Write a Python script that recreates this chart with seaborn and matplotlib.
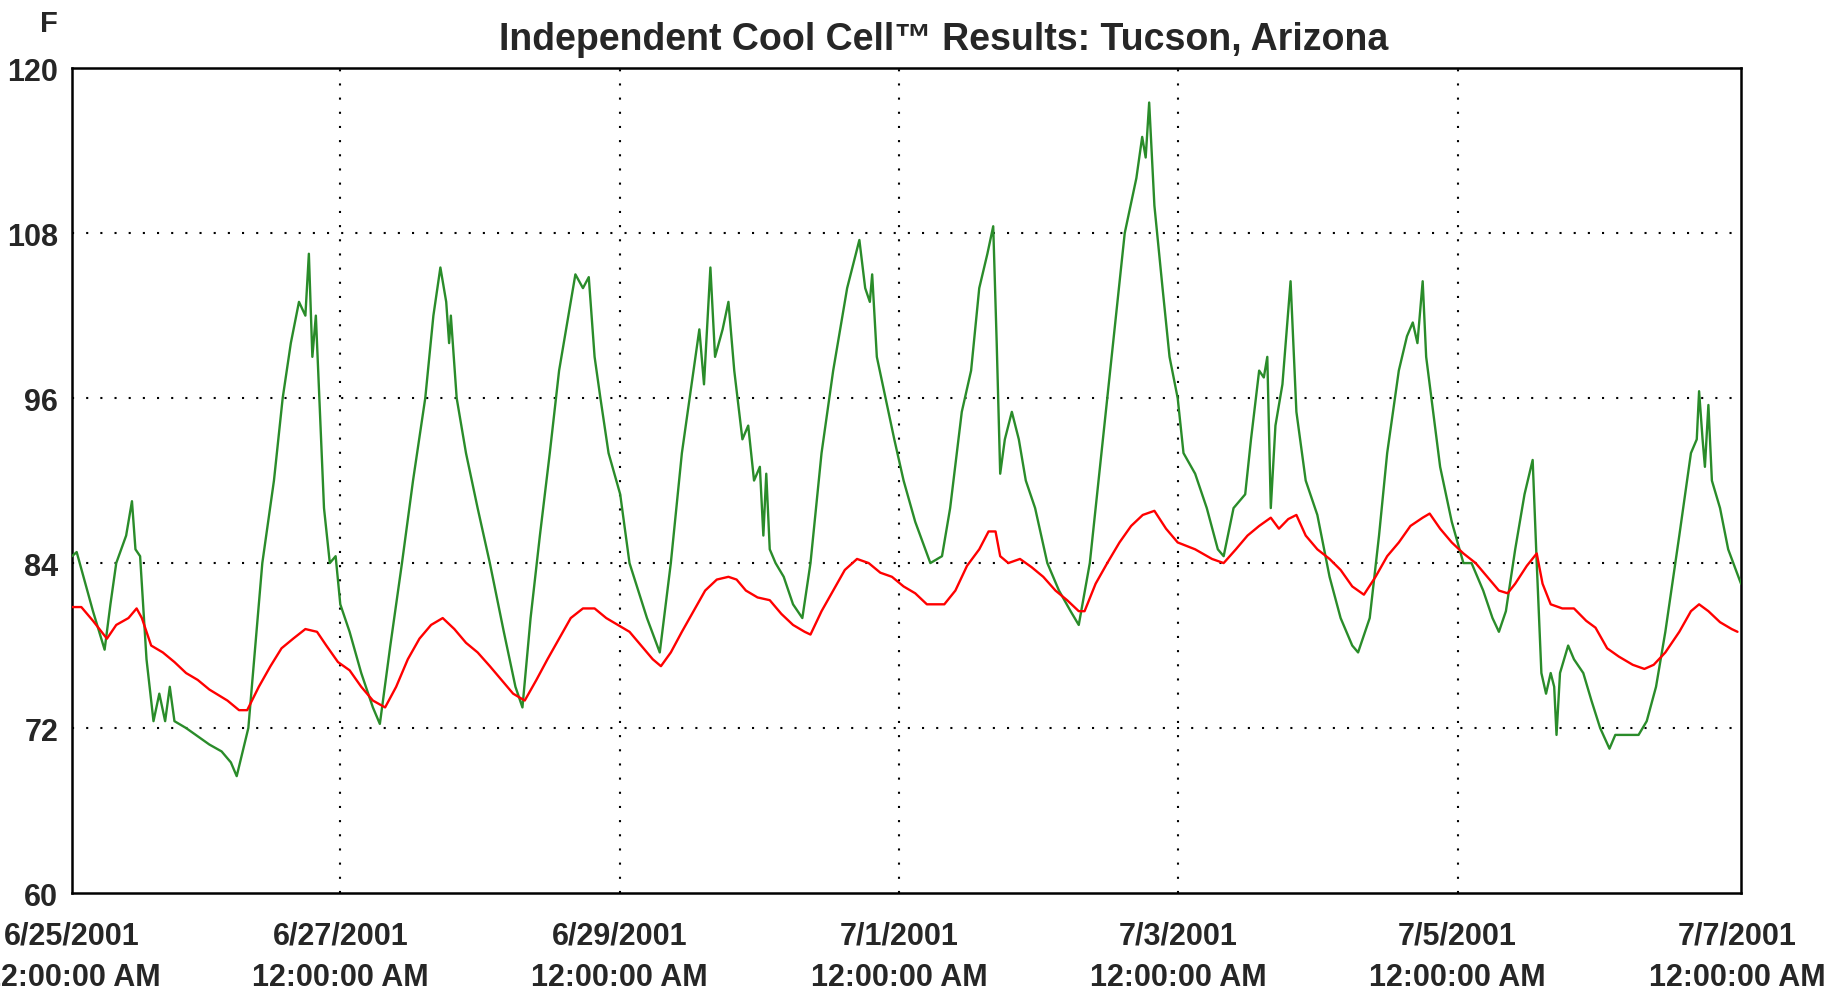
import numpy as np
import pandas as pd
import matplotlib
matplotlib.use("Agg")
import matplotlib.pyplot as plt
import seaborn as sns

# hours since 6/25/2001 12:00 AM, temperature in F
OUTSIDE_HOURS = [
    1.9, 2.7, 5.5, 7.5, 8.5, 9.5, 11.2, 12.2, 12.8, 13.6, 14.7, 15.9, 16.9, 17.9, 18.7, 19.5,
    21.5, 25.5, 27.6, 29.2, 30.2, 32.2, 34.6, 36.6, 38.1, 39.5, 40.9, 42.0, 42.6, 43.2, 43.8,
    44.4, 45.2, 46.2, 47.2, 48.0, 49.6, 51.6, 53.6, 54.8, 56.6, 58.6, 60.5, 62.6, 64.0, 65.2,
    66.2, 66.7, 67.0, 68.0, 69.6, 71.6, 73.7, 76.1, 78.1, 79.3, 80.7, 82.3, 84.0, 85.6, 87.2,
    88.4, 89.7, 90.7, 91.7, 92.7, 94.1, 96.1, 97.7, 100.7, 102.9, 104.8, 106.7, 108.7, 109.7,
    110.5, 111.6, 112.4, 113.7, 114.7, 115.7, 117.1, 118.1, 119.1, 120.1, 120.7, 121.2, 121.8,
    122.8, 124.2, 125.8, 127.4, 128.8, 130.7, 132.7, 135.1, 137.2, 138.2, 139.0, 139.4, 140.2,
    141.2, 143.2, 144.8, 146.8, 149.4, 151.4, 152.8, 154.8, 156.4, 157.8, 159.2, 160.2, 160.8,
    161.4, 162.2, 163.4, 164.6, 165.8, 167.4, 169.5, 171.5, 173.5, 174.9, 176.8, 178.8, 180.8,
    182.8, 184.8, 185.8, 186.4, 187.0, 187.9, 189.3, 190.5, 191.9, 192.9, 194.9, 196.9, 198.8,
    199.8, 201.5, 203.5, 204.5, 205.9, 206.7, 207.3, 207.9, 208.7, 209.9, 211.3, 212.3, 213.9,
    215.9, 218.0, 219.9, 221.9, 222.9, 224.9, 226.5, 227.9, 229.9, 231.3, 232.3, 233.1, 234.0,
    234.6, 235.2, 237.0, 239.0, 240.0, 241.0, 242.4, 244.4, 246.0, 247.1, 248.3, 249.9, 251.5,
    252.9, 253.6, 254.4, 255.2, 256.0, 256.6, 257.0, 257.6, 259.0, 260.0, 261.6, 263.0, 264.5,
    266.1, 267.1, 269.1, 271.1, 272.5, 274.1, 275.7, 278.1, 280.1, 281.1, 281.5, 282.1, 282.5,
    283.1, 283.7, 285.1, 286.5, 288.7,
]
OUTSIDE_TEMP = [
    84.5, 84.8, 80.5, 77.7, 81.0, 84.0, 86.0, 88.5, 85.0, 84.5, 77.0, 72.5, 74.5, 72.5, 75.0, 72.5,
    72.0, 70.8, 70.3, 69.5, 68.5, 72.0, 84.0, 90.0, 96.0, 100.0, 103.0, 102.0, 106.5, 99.0, 102.0,
    96.0, 88.0, 84.0, 84.5, 81.0, 79.0, 76.0, 73.5, 72.3, 78.0, 84.0, 90.0, 96.0, 102.0, 105.5,
    103.0, 100.0, 102.0, 96.0, 92.0, 88.0, 84.0, 79.0, 75.0, 73.5, 80.0, 86.0, 92.0, 98.0, 102.0,
    105.0, 104.0, 104.8, 99.0, 96.0, 92.0, 89.0, 84.0, 80.0, 77.5, 84.0, 92.0, 98.0, 101.0,
    97.0, 105.5, 99.0, 101.0, 103.0, 98.0, 93.0, 94.0, 90.0, 91.0, 86.0, 90.5, 85.0,
    84.0, 83.0, 81.0, 80.0, 84.0, 92.0, 98.0, 104.0, 107.5, 104.0, 103.0, 105.0, 99.0,
    97.0, 93.0, 90.0, 87.0, 84.0, 84.5, 88.0, 95.0, 98.0, 104.0, 106.5, 108.5, 100.0,
    90.5, 93.0, 95.0, 93.0, 90.0, 88.0, 84.0, 82.0, 80.5, 79.5, 84.0, 92.0, 100.0,
    108.0, 112.0, 115.0, 113.5, 117.5, 110.0, 104.0, 99.0, 96.0, 92.0, 90.5, 88.0, 85.0,
    84.5, 88.0, 89.0, 93.0, 98.0, 97.5, 99.0, 88.0, 94.0, 97.0, 104.5, 95.0, 90.0,
    87.5, 83.0, 80.0, 78.0, 77.5, 80.0, 86.0, 92.0, 98.0, 100.5, 101.5, 100.0, 104.5,
    99.0, 97.0, 91.0, 87.0, 85.5, 84.0, 84.0, 82.0, 80.0, 79.0, 80.5, 85.0, 89.0,
    91.5, 84.0, 76.0, 74.5, 76.0, 75.0, 71.5, 76.0, 78.0, 77.0, 76.0, 74.0, 72.0,
    70.5, 71.5, 71.5, 71.5, 72.5, 75.0, 79.0, 86.0, 92.0, 93.0, 96.5, 93.0, 91.0,
    95.5, 90.0, 88.0, 85.0, 82.5,
]

CELL_HOURS = [
    1.9, 3.5, 5.5, 7.9, 9.5, 11.6, 13.0, 13.9, 15.5, 17.5, 19.5, 21.5, 23.5, 25.5, 28.6, 30.6,
    32.0, 34.0, 36.0, 37.9, 39.9, 42.0, 44.0, 45.6, 47.6, 49.6, 51.6, 53.6, 55.7, 57.6, 59.6,
    61.6, 63.6, 65.6, 67.6, 69.6, 71.6, 73.7, 75.7, 77.7, 79.7, 81.7, 83.6, 85.6, 87.6, 89.7,
    91.7, 93.7, 95.7, 97.7, 99.7, 101.7, 103.1, 104.8, 106.7, 108.7, 110.7, 112.7, 114.7, 116.1,
    117.7, 119.7, 121.8, 123.8, 125.8, 127.8, 128.8, 130.7, 132.7, 134.7, 136.8, 138.8, 140.8,
    142.8, 144.8, 146.8, 148.8, 151.8, 153.7, 155.7, 157.8, 159.4, 160.6, 161.4, 162.8, 164.8,
    166.8, 168.8, 170.9, 172.9, 174.9, 175.9, 177.8, 179.8, 181.9, 183.9, 185.9, 187.9, 189.9,
    191.9, 194.9, 197.8, 199.8, 201.9, 203.9, 205.9, 207.9, 209.3, 210.9, 212.3, 213.9, 215.9,
    218.0, 219.9, 221.9, 223.9, 225.9, 227.9, 229.9, 231.9, 234.0, 235.2, 237.0, 239.0, 241.0,
    243.1, 245.1, 247.1, 248.6, 249.9, 251.9, 253.6, 254.6, 256.0, 258.0, 260.0, 262.1, 263.7,
    265.7, 267.7, 270.1, 272.1, 273.7, 275.7, 278.1, 280.1, 281.5, 283.1, 285.1, 287.1, 288.1,
]
CELL_TEMP = [
    80.8, 80.8, 79.8, 78.5, 79.5, 80.0, 80.7, 80.0, 78.0, 77.5, 76.8, 76.0, 75.5, 74.8, 74.0, 73.3,
    73.3, 75.0, 76.5, 77.8, 78.5, 79.2, 79.0, 78.0, 76.8, 76.2, 75.0, 74.0, 73.5, 75.0, 77.0,
    78.5, 79.5, 80.0, 79.2, 78.2, 77.5, 76.5, 75.5, 74.5, 74.0, 75.5, 77.0, 78.5, 80.0, 80.7,
    80.7, 80.0, 79.5, 79.0, 78.0, 77.0, 76.5, 77.5, 79.0, 80.5, 82.0, 82.8, 83.0, 82.8,
    82.0, 81.5, 81.3, 80.3, 79.5, 79.0, 78.8, 80.5, 82.0, 83.5, 84.3, 84.0, 83.3,
    83.0, 82.3, 81.8, 81.0, 81.0, 82.0, 83.8, 85.0, 86.3, 86.3, 84.5, 84.0, 84.3,
    83.7, 83.0, 82.0, 81.3, 80.5, 80.5, 82.5, 84.0, 85.5, 86.7, 87.5, 87.8, 86.5,
    85.5, 85.0, 84.3, 84.0, 85.0, 86.0, 86.7, 87.3, 86.5, 87.2, 87.5, 86.0, 85.0,
    84.3, 83.5, 82.3, 81.7, 83.0, 84.5, 85.5, 86.7, 87.3, 87.6, 86.5, 85.5, 84.7,
    84.0, 83.0, 82.0, 81.8, 82.5, 83.8, 84.7, 82.5, 81.0, 80.7, 80.7, 79.8, 79.3,
    77.8, 77.2, 76.6, 76.3, 76.6, 77.5, 79.0, 80.5, 81.0, 80.5, 79.7, 79.2, 79.0,
]

TICK_HOURS = [1.9, 48, 96, 144, 192, 240, 288]
TICK_DATES = ["6/25/2001", "6/27/2001", "6/29/2001", "7/1/2001", "7/3/2001", "7/5/2001", "7/7/2001"]
GRID_HOURS = [48, 96, 144, 192, 240]
Y_TICKS = [60, 72, 84, 96, 108, 120]

GREEN = "#2a8c2a"
RED = "#ff0000"

sns.set_style("white")
plt.rcParams["font.family"] = ["Liberation Sans", "DejaVu Sans"]

outside = pd.DataFrame({"hours": OUTSIDE_HOURS, "temp": OUTSIDE_TEMP})
cell = pd.DataFrame({"hours": CELL_HOURS, "temp": CELL_TEMP})

fig = plt.figure(figsize=(18.28, 9.95), dpi=100)
ax = fig.add_axes([0.0394, 0.1015, 0.913, 0.829])

# dotted grid first so the curves sit on top
for g in GRID_HOURS:
    ax.axvline(g, color="black", lw=1.5, ls=(0, (1, 5.8)), zorder=1)
for g in Y_TICKS[1:-1]:
    ax.axhline(g, color="black", lw=1.5, ls=(0, (1, 5.8)), zorder=1)

sns.lineplot(data=outside, x="hours", y="temp", color=GREEN, lw=1.7,
             estimator=None, sort=False, ax=ax, zorder=3)
sns.lineplot(data=cell, x="hours", y="temp", color=RED, lw=1.7,
             estimator=None, sort=False, ax=ax, zorder=3)

ax.set_xlim(TICK_HOURS[0], 288.7)
ax.set_ylim(60, 120)
ax.set_xticks(TICK_HOURS)
ax.set_xticklabels([d + "\n12:00:00 AM" for d in TICK_DATES],
                   fontsize=22, fontweight="bold", linespacing=1.5)
ax.set_yticks(Y_TICKS)
ax.set_yticklabels([str(v) for v in Y_TICKS], fontsize=22, fontweight="bold")
ax.tick_params(axis="both", length=0)
ax.tick_params(axis="x", pad=20)
ax.tick_params(axis="y", pad=10)
ax.set_xlabel("")
ax.set_ylabel("")

for s in ax.spines.values():
    s.set_color("black")
    s.set_linewidth(1.8)

fig.text(944 / 1828, 1 - 40 / 995, "Independent Cool Cell\u2122 Results: Tucson, Arizona",
         ha="center", va="center", fontsize=27, fontweight="bold")
fig.text(49 / 1828, 1 - 24 / 995, "F", ha="center", va="center",
         fontsize=21, fontweight="bold")

fig.savefig("out.png", dpi=100, facecolor="white")
